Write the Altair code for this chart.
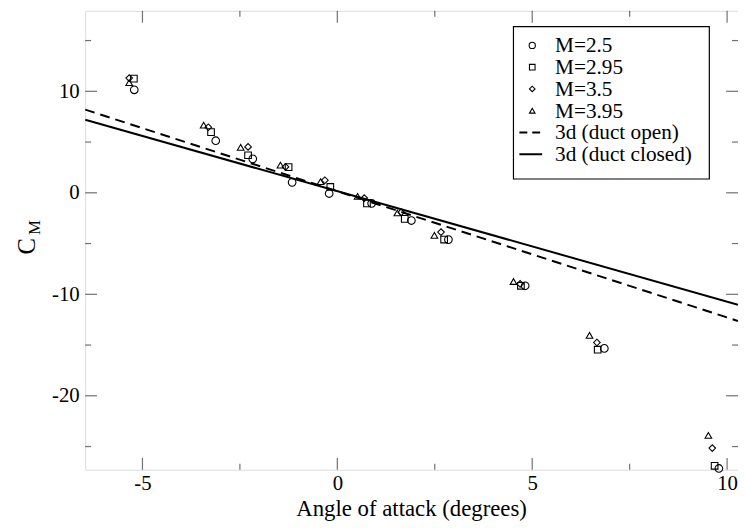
import altair as alt
import pandas as pd

# ---- data ----
alpha_m250 = [-5.21, -3.12, -2.17, -1.16, -0.21, 0.88, 1.90, 2.85, 4.82, 6.85, 9.79]
cm_m250 = [10.15, 5.13, 3.35, 1.03, -0.07, -1.04, -2.73, -4.61, -9.16, -15.33, -27.16]

alpha_m295 = [-5.22, -3.24, -2.29, -1.25, -0.18, 0.76, 1.73, 2.74, 4.71, 6.68, 9.68]
cm_m295 = [11.25, 5.98, 3.70, 2.53, 0.58, -1.04, -2.57, -4.61, -9.16, -15.46, -26.90]

alpha_m350 = [-5.34, -3.31, -2.29, -1.33, -0.32, 0.69, 1.64, 2.66, 4.69, 6.66, 9.62]
cm_m350 = [11.30, 6.46, 4.52, 2.55, 1.24, -0.52, -1.92, -3.87, -8.97, -14.75, -25.15]

alpha_m395 = [-5.34, -3.43, -2.48, -1.46, -0.43, 0.52, 1.54, 2.49, 4.52, 6.47, 9.52]
cm_m395 = [10.85, 6.66, 4.48, 2.73, 1.10, -0.36, -1.98, -4.19, -8.74, -14.04, -23.90]

line_alpha = [-6.47, 10.28]
cm_duct_open = [8.20, -12.63]
cm_duct_closed = [7.20, -11.03]

x_major = [-5, 0, 5, 10]
x_minor = [-2.5, 2.5, 7.5]
y_major = [-20, -10, 0, 10]
y_minor = [-25, -15, -5, 5, 15]

legend_labels = ["M=2.5", "M=2.95", "M=3.5", "M=3.95", "3d (duct open)", "3d (duct closed)"]
x_title = "Angle of attack (degrees)"

# ---- layout ----
W, H = 660, 464
FONT = "Liberation Serif"
xs = alt.Scale(domain=[-6.47, 10.28], nice=False, zero=False)
ys = alt.Scale(domain=[-27.29, 17.93], nice=False, zero=False)

xaxis = alt.Axis(values=x_major, ticks=False, domain=False, grid=False, title=None,
                 labelFont=FONT, labelFontSize=21, labelColor="black", labelPadding=3,
                 labelFlush=False, labelOverlap=False, labelExpr="'' + datum.value")
yaxis = alt.Axis(values=y_major, ticks=False, domain=False, grid=False, title=None,
                 labelFont=FONT, labelFontSize=21, labelColor="black", labelPadding=6,
                 labelFlush=False, labelOverlap=False, labelExpr="'' + datum.value")


def X(field):
    return alt.X(field, type="quantitative", scale=xs, axis=xaxis)


def Y(field):
    return alt.Y(field, type="quantitative", scale=ys, axis=yaxis)


layers = []

# fitted lines
df_lines = pd.DataFrame({"a": line_alpha, "open": cm_duct_open, "closed": cm_duct_closed})
layers.append(alt.Chart(df_lines).mark_line(color="black", strokeWidth=2, strokeDash=[10, 6], clip=True)
              .encode(x=X("a"), y=Y("open")))
layers.append(alt.Chart(df_lines).mark_line(color="black", strokeWidth=2, clip=True)
              .encode(x=X("a"), y=Y("closed")))

series = [
    (alpha_m250, cm_m250, "circle", 60),
    (alpha_m295, cm_m295, "square", 45),
    (alpha_m350, cm_m350, "diamond", 45),
    (alpha_m395, cm_m395, "triangle-up", 45),
]
for a, c, shape, size in series:
    df = pd.DataFrame({"a": a, "c": c})
    layers.append(alt.Chart(df).mark_point(shape=shape, filled=False, color="black",
                                           strokeWidth=1.1, size=size, opacity=1)
                  .encode(x=X("a"), y=Y("c")))


# inward ticks
def tick_layer(vals, side, length):
    df = pd.DataFrame({"v": vals})
    if side in ("bottom", "top"):
        ypix = H - length / 2 if side == "bottom" else length / 2
        return alt.Chart(df).mark_tick(orient="vertical", size=length, thickness=1.2, color="#333333") \
            .encode(x=X("v"), y=alt.value(ypix))
    xpix = length / 2 if side == "left" else W - length / 2
    return alt.Chart(df).mark_tick(orient="horizontal", size=length, thickness=1.2, color="#333333") \
        .encode(y=Y("v"), x=alt.value(xpix))


for side in ("bottom", "top"):
    layers.append(tick_layer(x_major, side, 12))
    layers.append(tick_layer(x_minor, side, 6))
for side in ("left", "right"):
    layers.append(tick_layer(y_major, side, 12))
    layers.append(tick_layer(y_minor, side, 6))

one = alt.Data(values=[{}])

# legend box
LX0, LX1, LY0, LY1 = 433, 631, 16, 170
layers.append(alt.Chart(one).mark_rect(fill="white", stroke="black", strokeWidth=1.2)
              .encode(x=alt.value(LX0), x2=alt.value(LX1), y=alt.value(LY0), y2=alt.value(LY1)))
row_y = [35 + 22 * i for i in range(6)]
sym_x = 452
text_x = 475
for i, (shape, size) in enumerate([("circle", 40), ("square", 32), ("diamond", 32), ("triangle-up", 32)]):
    layers.append(alt.Chart(one).mark_point(shape=shape, filled=False, color="black",
                                            strokeWidth=1.1, size=size, opacity=1)
                  .encode(x=alt.value(sym_x), y=alt.value(row_y[i])))
layers.append(alt.Chart(one).mark_rule(color="black", strokeWidth=2, strokeDash=[8, 5])
              .encode(x=alt.value(439), x2=alt.value(462), y=alt.value(row_y[4])))
layers.append(alt.Chart(one).mark_rule(color="black", strokeWidth=2)
              .encode(x=alt.value(439), x2=alt.value(462), y=alt.value(row_y[5])))
for i, lab in enumerate(legend_labels):
    layers.append(alt.Chart(one).mark_text(text=lab, font=FONT, fontSize=21.5, align="left",
                                           baseline="middle", color="black")
                  .encode(x=alt.value(text_x), y=alt.value(row_y[i] + 1)))

# axis titles
layers.append(alt.Chart(one).mark_text(text=x_title, font=FONT, fontSize=23, align="center",
                                       baseline="alphabetic", color="black")
              .encode(x=alt.value(W / 2), y=alt.value(H + 47)))
layers.append(alt.Chart(one).mark_text(text="C", font=FONT, fontSize=25, angle=270, align="center",
                                       baseline="middle", color="black")
              .encode(x=alt.value(-59), y=alt.value(238)))
layers.append(alt.Chart(one).mark_text(text="M", font=FONT, fontSize=17, angle=270, align="center",
                                       baseline="middle", color="black")
              .encode(x=alt.value(-51), y=alt.value(219)))

chart = alt.layer(*layers).properties(
    width=W, height=H,
    autosize=alt.AutoSizeParams(type="none"),
    padding={"left": 78, "top": 0, "right": 0, "bottom": 56},
).configure_view(stroke="#222222", strokeWidth=1.6).configure(background="white")

chart.save("out.html", embed_options={"renderer": "svg", "actions": False})
